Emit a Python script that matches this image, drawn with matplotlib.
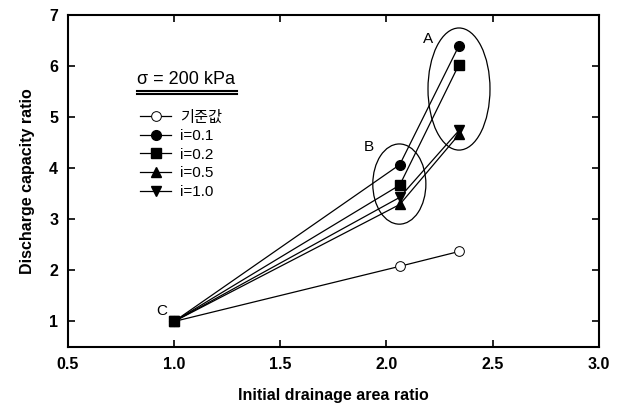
import matplotlib
matplotlib.use("Agg")
import matplotlib.pyplot as plt
from matplotlib.patches import Ellipse
from matplotlib.lines import Line2D

plt.rcParams["font.family"] = ["Liberation Sans", "Noto Sans CJK KR", "DejaVu Sans"]

# initial drainage area ratio for the three cases (C, B, A)
area_ratio = [1.0, 2.063, 2.342]

# discharge capacity ratio for each series
base_vals = [1.0, 2.08, 2.37]
i01_vals = [1.0, 4.07, 6.40]
i02_vals = [1.0, 3.67, 6.03]
i05_vals = [1.0, 3.29, 4.66]
i10_vals = [1.0, 3.43, 4.74]

labels = ["기준값", "i=0.1", "i=0.2", "i=0.5", "i=1.0"]

fig = plt.figure(figsize=(6.23, 4.04), dpi=100)
ax = fig.add_axes([0.109, 0.141, 0.852, 0.822])

ms = 7
ax.plot(area_ratio, base_vals, color="black", lw=0.9, marker="o", ms=ms,
        mfc="white", mec="black", mew=0.7, label=labels[0])
ax.plot(area_ratio, i01_vals, color="black", lw=0.9, marker="o", ms=ms, label=labels[1])
ax.plot(area_ratio, i02_vals, color="black", lw=0.9, marker="s", ms=ms - 0.5, label=labels[2])
ax.plot(area_ratio, i05_vals, color="black", lw=0.9, marker="^", ms=ms, label=labels[3])
ax.plot(area_ratio, i10_vals, color="black", lw=0.9, marker="v", ms=ms, label=labels[4])

# circle the groups at B and A
ax.add_patch(Ellipse((2.061, 3.69), 0.25, 1.57, fill=False, lw=0.9, ec="black"))
ax.add_patch(Ellipse((2.342, 5.55), 0.292, 2.39, fill=False, lw=0.9, ec="black"))

ax.text(2.195, 6.53, "A", fontsize=11, ha="center", va="center")
ax.text(1.917, 4.41, "B", fontsize=11, ha="center", va="center")
ax.text(0.94, 1.2, "C", fontsize=11, ha="center", va="center")

ax.set_xlim(0.5, 3.0)
ax.set_ylim(0.5, 7.0)
ax.set_xticks([0.5, 1.0, 1.5, 2.0, 2.5, 3.0])
ax.set_yticks([1, 2, 3, 4, 5, 6, 7])
ax.tick_params(direction="in", top=True, right=True, length=5, width=1.2,
               labelsize=11.5)
ax.tick_params(axis="x", pad=7)
ax.tick_params(axis="y", pad=7)
for lab in ax.get_xticklabels() + ax.get_yticklabels():
    lab.set_fontweight("bold")
for sp in ax.spines.values():
    sp.set_linewidth(1.5)

ax.set_xlabel("Initial drainage area ratio", fontsize=11.5, fontweight="bold", labelpad=12)
ax.set_ylabel("Discharge capacity ratio", fontsize=11.5, fontweight="bold", labelpad=10)

# legend title with double underline
ax.text(0.13, 0.792, "σ = 200 kPa", transform=ax.transAxes, fontsize=13,
        ha="left", va="baseline")
for yy in (0.770, 0.762):
    ax.add_line(Line2D([0.13, 0.318], [yy, yy], transform=ax.transAxes,
                       color="black", lw=1.5))

ax.legend(loc="upper left", bbox_to_anchor=(0.125, 0.731), frameon=False,
          fontsize=11, handlelength=2.0, handletextpad=0.6, labelspacing=0.3,
          borderaxespad=0)

fig.savefig("out.png", dpi=100)
